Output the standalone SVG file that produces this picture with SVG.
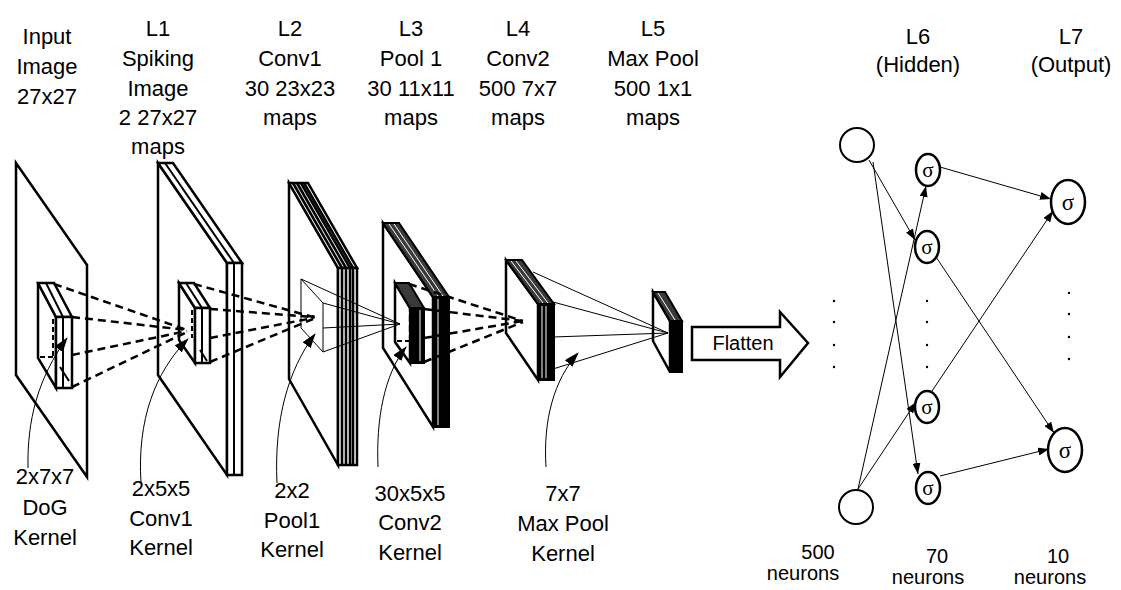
<svg xmlns="http://www.w3.org/2000/svg" width="1121" height="590" viewBox="0 0 1121 590">
<style>
.s{fill:#fff;stroke:#000;stroke-width:2.5;stroke-linejoin:miter}
.ln{stroke:#000;stroke-width:2;fill:none}
.lh{stroke:#000;stroke-width:2.6;fill:none}
.dk{fill:#000;stroke:#000;stroke-width:2}
.ht{fill:#3a3a3a;stroke:#000;stroke-width:2}
.wl{stroke:#fff;stroke-width:1;fill:none}
.dash{stroke:#000;stroke-width:2.5;stroke-dasharray:8 5;fill:none}
.hid{stroke:#000;stroke-width:2;stroke-dasharray:5 3;fill:none}
.thin{stroke:#000;stroke-width:1;fill:none}
.ann{stroke:#000;stroke-width:1;fill:none;marker-end:url(#ah)}
.edge{stroke:#000;stroke-width:1;fill:none;marker-end:url(#ae)}
.nd{fill:#fff;stroke:#000;stroke-width:2.5}
.t{font-family:"Liberation Sans",Arial,sans-serif;font-size:22px;text-anchor:middle;fill:#000}
.tn{font-family:"Liberation Sans",Arial,sans-serif;font-size:20px;text-anchor:middle;fill:#000}
.sig{font-family:"Liberation Serif","Times New Roman",serif;text-anchor:middle;fill:#000}
</style>
<defs>
<marker id="ah" markerUnits="userSpaceOnUse" markerWidth="15" markerHeight="10" refX="14" refY="5" orient="auto">
<path d="M0,0 L15,5 L0,10 z" fill="#000"/>
</marker>
<marker id="ae" markerUnits="userSpaceOnUse" markerWidth="11" markerHeight="8" refX="11" refY="4" orient="auto">
<path d="M0,0 L11,4 L0,8 z" fill="#000"/>
</marker>
</defs>
<rect width="1121" height="590" fill="#fff"/>

<!-- Input layer -->
<g id="input">
<polygon class="s" points="16,163 87,265 87,477 16,375"/>
<text class="t" x="47" y="44">Input</text>
<text class="t" x="47" y="74">Image</text>
<text class="t" x="47" y="104">27x27</text>
</g>

<!-- L1 -->
<g id="l1">
<polygon class="s" points="158,163 227,263 227,475 158,375"/>
<polygon class="s" points="158,163 173,163 242,263 227,263"/>
<rect class="s" x="227" y="263" width="15" height="212"/>
<line class="ln" x1="165" y1="163" x2="234" y2="263"/>
<line class="ln" x1="234" y1="263" x2="234" y2="475"/>
<text class="t" x="158" y="36">L1</text>
<text class="t" x="158" y="66">Spiking</text>
<text class="t" x="158" y="96">Image</text>
<text class="t" x="158" y="125">2 27x27</text>
<text class="t" x="158" y="154">maps</text>
</g>

<!-- L2 -->
<g id="l2">
<polygon class="s" points="289,183 338,268 338,465 289,379"/>
<polygon class="s" points="289,183 308,183 357,268 338,268"/>
<rect class="s" x="338" y="268" width="19" height="197"/>
<line class="lh" x1="293" y1="183" x2="342" y2="268"/>
<line class="lh" x1="297" y1="183" x2="346" y2="268"/>
<line class="lh" x1="301" y1="183" x2="350" y2="268"/>
<line class="lh" x1="304" y1="183" x2="353" y2="268"/>
<line class="lh" x1="342" y1="268" x2="342" y2="465"/>
<line class="lh" x1="346" y1="268" x2="346" y2="465"/>
<line class="lh" x1="350" y1="268" x2="350" y2="465"/>
<line class="lh" x1="353" y1="268" x2="353" y2="465"/>
<text class="t" x="290" y="36">L2</text>
<text class="t" x="290" y="66">Conv1</text>
<text class="t" x="290" y="96">30 23x23</text>
<text class="t" x="290" y="125">maps</text>
</g>

<!-- L3 -->
<g id="l3">
<polygon class="s" points="383,223 433,297 433,427 383,348"/>
<polygon class="ht" points="383,223 399,223 449,297 433,297"/>
<line class="wl" x1="389" y1="224" x2="438" y2="296"/>
<line class="wl" x1="394" y1="224" x2="443" y2="296"/>
<rect class="dk" x="433" y="297" width="16" height="130"/>
<line class="wl" x1="438" y1="299" x2="438" y2="425"/>
<text class="t" x="411" y="36">L3</text>
<text class="t" x="411" y="66">Pool 1</text>
<text class="t" x="411" y="96">30 11x11</text>
<text class="t" x="411" y="125">maps</text>
</g>

<!-- L4 -->
<g id="l4">
<polygon class="s" points="506,260 538,304 538,380 506,333"/>
<polygon class="ht" points="506,260 522,260 554,304 538,304"/>
<line class="wl" x1="511" y1="261" x2="543" y2="303"/>
<line class="wl" x1="516" y1="261" x2="548" y2="303"/>
<rect class="dk" x="538" y="304" width="16" height="76"/>
<line class="wl" x1="542" y1="306" x2="542" y2="378"/>
<line class="wl" x1="546" y1="306" x2="546" y2="378"/>
<text class="t" x="518" y="36">L4</text>
<text class="t" x="518" y="66">Conv2</text>
<text class="t" x="518" y="96">500 7x7</text>
<text class="t" x="518" y="125">maps</text>
</g>

<!-- L5 -->
<g id="l5">
<polygon class="s" points="653,292 670,321 670,372 653,341"/>
<polygon class="ht" points="653,292 665,292 682,321 670,321"/>
<line class="wl" x1="658" y1="293" x2="675" y2="320"/>
<rect class="dk" x="670" y="321" width="12" height="51"/>
<text class="t" x="653" y="36">L5</text>
<text class="t" x="653" y="66">Max Pool</text>
<text class="t" x="653" y="96">500 1x1</text>
<text class="t" x="653" y="125">maps</text>
</g>

<!-- Kernels -->
<g id="k-dog">
<polygon class="s" points="38,283 56,317 56,388 38,358"/>
<polygon class="s" points="38,283 54,283 72,317 56,317"/>
<rect class="s" x="56" y="317" width="16" height="71"/>
<line class="ln" x1="46" y1="283" x2="63" y2="317"/>
<line class="ln" x1="63" y1="317" x2="63" y2="388"/>
<line class="hid" x1="53" y1="319" x2="53" y2="356"/>
<line class="hid" x1="40" y1="357" x2="54" y2="357"/>
<line class="ln" x1="60" y1="367" x2="69" y2="381"/>
<text class="t" x="45" y="484">2x7x7</text>
<text class="t" x="45" y="515">DoG</text>
<text class="t" x="45" y="545">Kernel</text>
</g>

<g id="k-conv1">
<polygon class="s" points="179,283 195,308 195,363 179,340"/>
<polygon class="s" points="179,283 194,283 210,308 195,308"/>
<rect class="s" x="195" y="308" width="15" height="55"/>
<line class="ln" x1="186" y1="283" x2="202" y2="308"/>
<line class="ln" x1="202" y1="308" x2="202" y2="363"/>
<line class="hid" x1="192" y1="310" x2="192" y2="338"/>
<line class="ln" x1="200" y1="350" x2="207" y2="361"/>
<text class="t" x="161" y="496">2x5x5</text>
<text class="t" x="161" y="526">Conv1</text>
<text class="t" x="161" y="555">Kernel</text>
</g>

<g id="k-pool1">
<polygon class="thin" points="301,279 323,303 323,352 301,328"/>
<circle cx="313" cy="317" r="2" fill="#000"/>
<text class="t" x="292" y="498">2x2</text>
<text class="t" x="292" y="528">Pool1</text>
<text class="t" x="292" y="557">Kernel</text>
</g>

<g id="k-conv2">
<polygon class="s" points="395,283 410,308 410,363 395,342"/>
<polygon class="ht" points="395,283 409,283 424,308 410,308"/>
<rect class="dk" x="410" y="308" width="14" height="55"/>
<line class="wl" x1="420" y1="310" x2="420" y2="361"/>
<line stroke="#fff" stroke-width="1.5" stroke-dasharray="3 7" x1="408" y1="312" x2="408" y2="340"/>
<line class="hid" x1="397" y1="341" x2="409" y2="341"/>
<text class="t" x="410" y="501">30x5x5</text>
<text class="t" x="410" y="530">Conv2</text>
<text class="t" x="410" y="560">Kernel</text>
</g>

<g id="k-maxpool">
<text class="t" x="563" y="501">7x7</text>
<text class="t" x="563" y="531">Max Pool</text>
<text class="t" x="563" y="561">Kernel</text>
</g>

<!-- Connectors -->
<g id="connectors">
<line class="dash" x1="54" y1="284" x2="187" y2="330"/>
<line class="dash" x1="72" y1="317" x2="187" y2="330"/>
<line class="dash" x1="72" y1="355" x2="187" y2="331"/>
<line class="dash" x1="72" y1="387" x2="187" y2="332"/>
<line class="dash" x1="194" y1="284" x2="313" y2="317"/>
<line class="dash" x1="210" y1="309" x2="313" y2="317"/>
<line class="dash" x1="210" y1="338" x2="313" y2="318"/>
<line class="dash" x1="210" y1="362" x2="313" y2="319"/>
<line class="thin" x1="301" y1="279" x2="400" y2="324"/>
<line class="thin" x1="323" y1="303" x2="400" y2="324"/>
<line class="thin" x1="323" y1="328" x2="400" y2="324"/>
<line class="thin" x1="323" y1="352" x2="400" y2="324"/>
<line class="dash" x1="409" y1="284" x2="523" y2="321"/>
<line class="dash" x1="424" y1="309" x2="523" y2="321"/>
<line class="dash" x1="424" y1="338" x2="523" y2="321"/>
<line class="dash" x1="424" y1="362" x2="523" y2="322"/>
<line class="thin" x1="533" y1="272" x2="668" y2="333"/>
<line class="thin" x1="553" y1="302" x2="668" y2="333"/>
<line class="thin" x1="553" y1="337" x2="668" y2="333"/>
<line class="thin" x1="553" y1="369" x2="668" y2="333"/>
<path class="ann" d="M28,468 C27,420 38,378 67,338"/>
<path class="ann" d="M141,483 C137,420 155,372 188,339"/>
<path class="ann" d="M277,483 C274,420 288,370 315,334"/>
<path class="ann" d="M378,467 C376,420 384,375 406,347"/>
<path class="ann" d="M546,467 C543,420 554,380 578,353"/>
<polygon class="s" points="692,327 780,327 780,312 808,343 780,377 780,360 692,360"/>
<text class="tn" x="743" y="350">Flatten</text>
<line class="edge" x1="869" y1="160" x2="915" y2="240"/>
<line class="edge" x1="873" y1="162" x2="918" y2="474"/>
<line class="edge" x1="858" y1="489" x2="926" y2="186"/>
<line class="edge" x1="858" y1="489" x2="916" y2="402"/>
<line class="edge" x1="940" y1="167" x2="1051" y2="199"/>
<line class="edge" x1="936" y1="257" x2="1054" y2="433"/>
<line class="edge" x1="932" y1="391" x2="1053" y2="211"/>
<line class="edge" x1="940" y1="476" x2="1049" y2="449"/>
</g>

<!-- NN nodes -->
<g id="in1"><circle class="nd" cx="857" cy="145" r="17" style="stroke-width:2"/></g>
<g id="in2"><circle class="nd" cx="856" cy="507" r="17" style="stroke-width:2"/></g>
<g id="in-dots" fill="#000">
<circle cx="834" cy="301" r="1.2"/><circle cx="834" cy="322" r="1.2"/><circle cx="834" cy="345" r="1.2"/><circle cx="834" cy="367" r="1.2"/>
</g>
<g id="h1"><ellipse class="nd" cx="928" cy="170" rx="12" ry="16"/><text class="sig" x="928" y="177" font-size="21">σ</text></g>
<g id="h2"><ellipse class="nd" cx="927" cy="247" rx="12" ry="16"/><text class="sig" x="927" y="254" font-size="21">σ</text></g>
<g id="h-dots" fill="#000">
<circle cx="927" cy="301" r="1.2"/><circle cx="927" cy="322" r="1.2"/><circle cx="927" cy="345" r="1.2"/><circle cx="927" cy="367" r="1.2"/>
</g>
<g id="h3"><ellipse class="nd" cx="927" cy="407" rx="12" ry="16"/><text class="sig" x="927" y="414" font-size="21">σ</text></g>
<g id="h4"><ellipse class="nd" cx="928" cy="488" rx="12" ry="16"/><text class="sig" x="928" y="495" font-size="21">σ</text></g>
<g id="o1"><ellipse class="nd" cx="1068" cy="202" rx="17" ry="22"/><text class="sig" x="1068" y="210" font-size="23">σ</text></g>
<g id="o-dots" fill="#000">
<circle cx="1069" cy="293" r="1.2"/><circle cx="1069" cy="314" r="1.2"/><circle cx="1069" cy="337" r="1.2"/><circle cx="1069" cy="359" r="1.2"/>
</g>
<g id="o2"><ellipse class="nd" cx="1065" cy="450" rx="17" ry="22"/><text class="sig" x="1065" y="458" font-size="23">σ</text></g>

<g id="nn-labels">
<text class="t" x="918" y="44">L6</text>
<text class="t" x="918" y="72">(Hidden)</text>
<text class="t" x="1071" y="44">L7</text>
<text class="t" x="1071" y="72">(Output)</text>
<text class="tn" x="818" y="559">500</text>
<text class="tn" x="803" y="580">neurons</text>
<text class="tn" x="937" y="563">70</text>
<text class="tn" x="928" y="584">neurons</text>
<text class="tn" x="1058" y="563">10</text>
<text class="tn" x="1050" y="584">neurons</text>
</g>
</svg>
